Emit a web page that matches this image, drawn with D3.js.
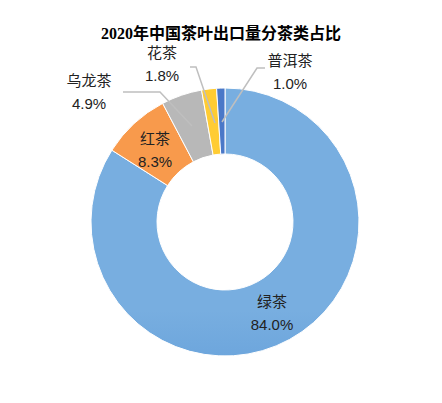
<!DOCTYPE html><html><head><meta charset="utf-8"><script src="https://cdn.jsdelivr.net/npm/d3@7"></script>
<style>body{margin:0;background:#fff}</style></head><body><svg id="c" width="442" height="403"></svg>
<script>
const categories=["绿茶","红茶","乌龙茶","花茶","普洱茶"];
const values=[84.0,8.3,4.9,1.8,1.0];
const labels=["84.0%","8.3%","4.9%","1.8%","1.0%"];
const svg=d3.select("#c");
const defs=svg.append("defs");
const grads=[["#78aee0","#3a80cc"],["#f89a4c","#e2680a"],["#b8b8b8","#909090"],["#ffcc33","#f2b800"],["#4a78c8","#2f5fb0"]];
grads.forEach((g,i)=>{const lg=defs.append("linearGradient").attr("id","g"+i).attr("gradientUnits","userSpaceOnUse").attr("x1",0).attr("y1",88).attr("x2",0).attr("y2",356);
lg.append("stop").attr("offset","0").attr("stop-color",g[0]);lg.append("stop").attr("offset","1").attr("stop-color",g[1]);});
const cx=225,cy=222;
const pie=d3.pie().sort(null).value(d=>d)(values);
const arc=d3.arc().innerRadius(68).outerRadius(134);
const gp=svg.append("g").attr("transform",`translate(${cx},${cy})`);
gp.selectAll("path").data(pie).join("path").attr("d",arc).attr("fill",(d,i)=>`url(#g${i})`).attr("stroke","#fff").attr("stroke-width",1);
svg.append("text").attr("x",221).attr("y",39).attr("text-anchor","middle").attr("font-weight","bold").attr("font-size",16).attr("font-family","'Liberation Serif','Noto Sans CJK SC'").text("2020年中国茶叶出口量分茶类占比");
const pos=[[272,307],[155,144],[89,86],[162,58],[290,66]];
const lines=[null,null,[[123,92],[160,92],[192,126]],[[190,67],[196,67],[215,123]],[[265,68],[257,68],[222,122]]];
lines.forEach(l=>{if(l)svg.append("polyline").attr("points",l.map(p=>p.join(",")).join(" ")).attr("fill","none").attr("stroke","#bfbfbf").attr("stroke-width",1.5);});
categories.forEach((c,i)=>{const t=svg.append("text").attr("text-anchor","middle").attr("font-size",15).attr("font-family","'Noto Sans CJK SC','Liberation Sans'").attr("fill","#222");
t.append("tspan").attr("x",pos[i][0]).attr("y",pos[i][1]).text(c);
t.append("tspan").attr("x",pos[i][0]).attr("y",pos[i][1]+23).attr("font-family","'Liberation Sans'").text(labels[i]);});
</script></body></html>
